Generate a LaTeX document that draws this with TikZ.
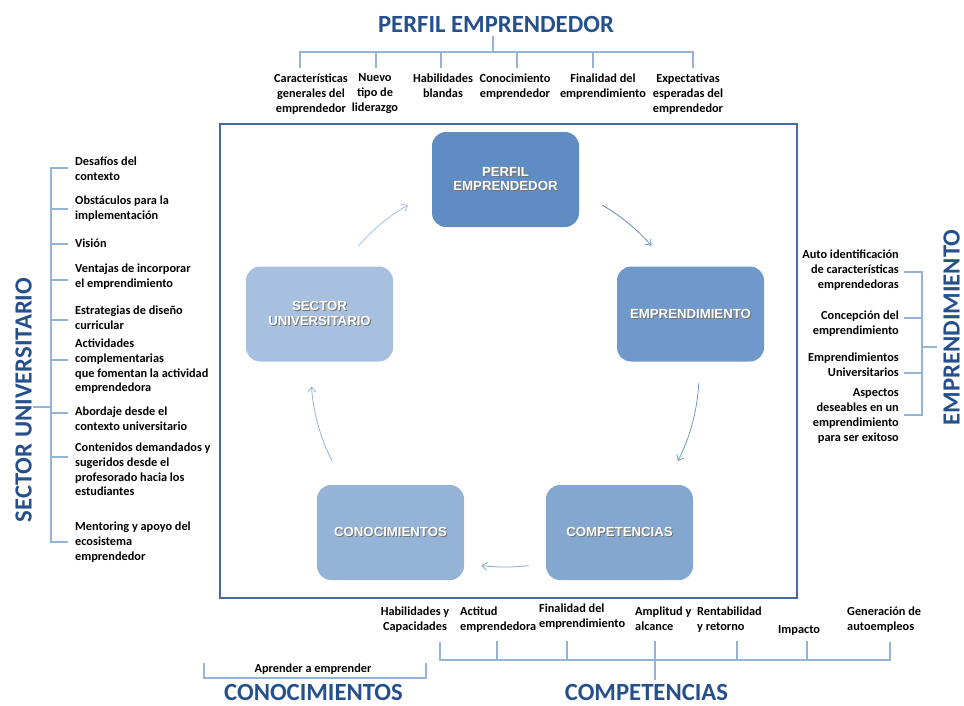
\documentclass[tikz,border=0pt]{standalone}
\usepackage{fontspec}
\setmainfont{Carlito}
\newfontfamily\boxfont{Liberation Sans}
\usetikzlibrary{arrows.meta}
\definecolor{ttl}{RGB}{38,80,140}
\definecolor{brk}{RGB}{149,179,215}
\definecolor{frm}{RGB}{70,105,160}
\definecolor{cA}{RGB}{96,140,196}
\definecolor{cB}{RGB}{112,153,203}
\definecolor{cC}{RGB}{132,167,208}
\definecolor{cD}{RGB}{149,178,215}
\definecolor{cE}{RGB}{167,192,223}
\newcommand{\sht}[1]{\makebox[0pt][l]{\kern1pt\raisebox{-1pt}{\textcolor{black!55}{#1}}}#1}
\begin{document}
\begin{tikzpicture}[x=1pt,y=-1pt,
 lbl/.style={font=\fontsize{12.3}{14.8}\selectfont\bfseries, inner sep=0pt, text=black, execute at begin node=\strut},
 ttlS/.style={font=\fontsize{24.7}{28}\selectfont\bfseries, text=ttl, inner sep=0pt, anchor=base},
 cbox/.style={rounded corners=14pt, minimum width=147pt, minimum height=95pt, draw=none, text=white, inner sep=2pt,
   font=\boxfont\fontsize{13.2}{14.5}\selectfont\bfseries, align=center},
 brkL/.style={draw=brk, line width=1.2pt},
 cyc/.style={line width=0.8pt, -{Straight Barb[length=5pt,width=8pt]}}
]
\useasboundingbox (0,0) rectangle (964,705);

% frame
\draw[draw=frm, line width=2pt] (220,124) rectangle (797,598);

% cycle boxes
\node[cbox, fill=cA] (perfil) at (505.5,179.5) {\sht{PERFIL}\\\sht{EMPRENDEDOR}};
\node[cbox, fill=cB] (empr) at (690.5,314) {\sht{EMPRENDIMIENTO}};
\node[cbox, fill=cC] (comp) at (619.5,532.5) {\sht{COMPETENCIAS}};
\node[cbox, fill=cD] (cono) at (390.5,532.5) {\sht{CONOCIMIENTOS}};
\node[cbox, fill=cE] (sect) at (319.5,314) {\sht{SECTOR}\\\sht{UNIVERSITARIO}};

% cycle arrows
\coordinate (cc) at (505,373);
\draw[cyc, draw=cA] ([shift={(-60:194)}]cc) arc[start angle=-60, end angle=-41, radius=194];
\draw[cyc, draw=cB] ([shift={(3:194)}]cc) arc[start angle=3, end angle=27, radius=194];
\draw[cyc, draw=cC] ([shift={(83:194)}]cc) arc[start angle=83, end angle=97, radius=194];
\draw[cyc, draw=cD] ([shift={(153:194)}]cc) arc[start angle=153, end angle=176, radius=194];
\draw[cyc, draw=cE] ([shift={(221:194)}]cc) arc[start angle=221, end angle=240, radius=194];

% titles
\node[ttlS] (tperfil) at (496,32) {PERFIL EMPRENDEDOR};
\node[ttlS, rotate=90] (tsect) at (31.5,400) {SECTOR UNIVERSITARIO};
\node[ttlS, rotate=90] (tempr) at (959.5,327.5) {EMPRENDIMIENTO};
\node[ttlS] (tcono) at (313.5,700) {CONOCIMIENTOS};
\node[ttlS] (tcomp) at (646.5,700) {COMPETENCIAS};

% top labels
\node[lbl, anchor=north, align=center] (p1) at (311,73.6) {Características\\generales del\\emprendedor};
\node[lbl, anchor=north, align=center] (p2) at (375,73.6) {Nuevo\\tipo de\\liderazgo};
\node[lbl, anchor=north, align=center] (p3) at (443,73.6) {Habilidades\\blandas};
\node[lbl, anchor=north, align=center] (p4) at (515,73.6) {Conocimiento\\emprendedor};
\node[lbl, anchor=north, align=center] (p5) at (603,73.6) {Finalidad del\\emprendimiento};
\node[lbl, anchor=north, align=center] (p6) at (688,73.6) {Expectativas\\esperadas del\\emprendedor};
% top bracket
\draw[brkL] (493,36) -- (493,52);
\draw[brkL] (300,68) -- (300,52) -- (693,52) -- (693,68);
\foreach \x in {376,441,517,593} \draw[brkL] (\x,52) -- (\x,68);

% left labels
\node[lbl, anchor=north west, align=left] (s1) at (75,156.6) {Desafíos del\\contexto};
\node[lbl, anchor=north west, align=left] (s2) at (75,195.6) {Obstáculos para la\\implementación};
\node[lbl, anchor=north west, align=left] (s3) at (75,236.6) {Visión};
\node[lbl, anchor=north west, align=left] (s4) at (75,263.6) {Ventajas de incorporar\\el emprendimiento};
\node[lbl, anchor=north west, align=left] (s5) at (75,305.6) {Estrategias de diseño\\curricular};
\node[lbl, anchor=north west, align=left] (s6) at (75,338.6) {Actividades\\complementarias\\que fomentan la actividad\\emprendedora};
\node[lbl, anchor=north west, align=left] (s7) at (75,406.6) {Abordaje desde el\\contexto universitario};
\node[lbl, anchor=north west, align=left] (s8) at (75,442.6) {Contenidos demandados y\\sugeridos desde el\\profesorado hacia los\\estudiantes};
\node[lbl, anchor=north west, align=left] (s9) at (75,521.6) {Mentoring y apoyo del\\ecosistema\\emprendedor};
% left bracket
\draw[brkL] (33,407) -- (51,407);
\draw[brkL] (68,168) -- (51,168) -- (51,542) -- (68,542);
\foreach \y in {209,244,280,320,360,413,457} \draw[brkL] (51,\y) -- (68,\y);

% right labels
\node[lbl, anchor=north east, align=right] (e1) at (899,249.6) {Auto identificación\\de características\\emprendedoras};
\node[lbl, anchor=north east, align=right] (e2) at (899,310.6) {Concepción del\\emprendimiento};
\node[lbl, anchor=north east, align=right] (e3) at (899,352.6) {Emprendimientos\\Universitarios};
\node[lbl, anchor=north east, align=right] (e4) at (899,388.6) {Aspectos\\deseables en un\\emprendimiento\\para ser exitoso};
% right bracket
\draw[brkL] (922,347) -- (937,347);
\draw[brkL] (904,272) -- (922,272) -- (922,415) -- (904,415);
\foreach \y in {318,373} \draw[brkL] (904,\y) -- (922,\y);

% bottom labels
\node[lbl, anchor=north, align=center] (c1) at (415,606.6) {Habilidades y\\Capacidades};
\node[lbl, anchor=north west, align=left] (c2) at (460,606.6) {Actitud\\emprendedora};
\node[lbl, anchor=north west, align=left] (c3) at (539,603.6) {Finalidad del\\emprendimiento};
\node[lbl, anchor=north west, align=left] (c4) at (635,606.6) {Amplitud y\\alcance};
\node[lbl, anchor=north west, align=left] (c5) at (697,606.6) {Rentabilidad\\y retorno};
\node[lbl, anchor=north west, align=left] (c6) at (778,622.6) {Impacto};
\node[lbl, anchor=north west, align=left] (c7) at (847,606.6) {Generación de\\autoempleos};
% bottom bracket
\draw[brkL] (655,660) -- (655,680);
\draw[brkL] (440,642) -- (440,660) -- (890,660) -- (890,642);
\foreach \x in {497,567,655,737,807} \draw[brkL] (\x,660) -- (\x,641);

% conocimientos bracket
\node[lbl, anchor=base] (k1) at (313,672) {Aprender a emprender};
\draw[brkL] (204,663) -- (204,678) -- (426,678) -- (426,663);
\end{tikzpicture}
\end{document}
